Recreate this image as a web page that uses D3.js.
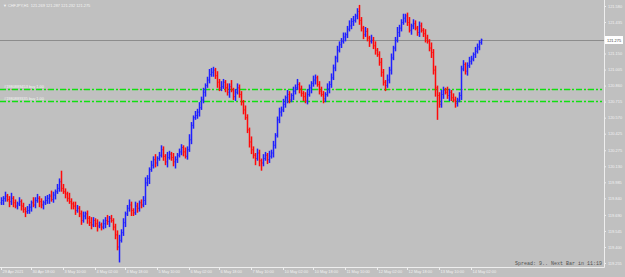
<!DOCTYPE html>
<html><head><meta charset="utf-8">
<script src="https://cdn.jsdelivr.net/npm/d3@7"></script>
<style>html,body{margin:0;padding:0;background:#c0c0c0;overflow:hidden}svg{display:block}</style>
</head><body><svg id="c" width="625" height="277"></svg>
<script>
const firstOpen = 119.80;
const closes = [
119.82,119.84,119.86,119.83,119.81,119.84,119.80,119.77,119.79,119.81,
119.77,119.74,119.72,119.73,119.76,119.80,119.78,119.82,119.84,119.81,
119.78,119.80,119.82,119.84,119.86,119.83,119.87,119.90,119.93,119.99,
119.93,119.90,119.88,119.84,119.81,119.79,119.77,119.73,119.75,119.70,
119.64,119.68,119.70,119.66,119.62,119.60,119.64,119.61,119.59,119.60,
119.58,119.61,119.64,119.63,119.66,119.64,119.58,119.51,119.40,119.46,
119.53,119.62,119.70,119.75,119.78,119.73,119.71,119.77,119.75,119.80,
119.78,119.82,119.98,120.02,120.10,120.14,120.19,120.16,120.20,120.23,
120.28,120.22,120.17,120.21,120.24,120.21,120.17,120.19,120.23,120.26,
120.30,120.26,120.22,120.28,120.37,120.50,120.57,120.59,120.62,120.66,
120.73,120.80,120.86,120.91,120.96,120.98,121.00,120.95,120.89,120.84,
120.85,120.89,120.84,120.80,120.85,120.82,120.76,120.80,120.84,120.78,
120.71,120.64,120.57,120.46,120.35,120.28,120.23,120.20,120.25,120.18,
120.16,120.20,120.23,120.19,120.22,120.25,120.32,120.41,120.55,120.62,
120.64,120.69,120.75,120.78,120.73,120.77,120.81,120.84,120.87,120.83,
120.79,120.76,120.72,120.78,120.84,120.88,120.91,120.93,120.87,120.81,
120.78,120.74,120.78,120.83,120.87,120.93,121.02,121.11,121.18,121.23,
121.26,121.30,121.32,121.37,121.40,121.44,121.45,121.49,121.53,121.45,
121.38,121.32,121.35,121.29,121.26,121.27,121.22,121.18,121.14,121.07,
120.98,120.89,120.86,120.91,121.00,121.11,121.20,121.27,121.34,121.38,
121.43,121.47,121.49,121.43,121.36,121.40,121.42,121.38,121.34,121.40,
121.36,121.33,121.29,121.26,121.20,121.16,121.00,120.84,120.77,120.69,
120.78,120.82,120.80,120.77,120.80,120.75,120.73,120.70,120.73,120.77,
121.01,121.05,120.99,121.04,121.08,121.10,121.14,121.17,121.21,121.25,121.275
];
// upper / lower wick lengths in pips (0.01)
const wickUp = [
3,2,4,2,3,5,2,3,2,4, 2,3,2,4,3,2,5,3,4,2, 3,2,4,3,2,5,3,2,4,3,
10,4,3,2,5,3,2,4,3,2, 3,4,2,3,2,5,3,2,4,3, 2,4,3,5,2,3,2,3,4,5,
3,4,2,3,5,3,2,4,3,2, 3,4,5,3,2,4,3,5,2,3, 4,3,2,5,3,2,4,3,2,3,
3,2,4,3,5,3,2,4,3,5, 3,4,2,3,5,4,3,2,4,3, 5,3,2,4,3,6,2,3,4,3,
3,2,4,3,2,5,3,2,4,3, 2,4,3,2,5,3,4,2,3,4, 3,5,2,4,3,2,4,3,5,2,
3,2,4,5,3,2,4,3,2,3, 4,3,2,5,3,4,3,2,4,3, 3,4,2,3,5,3,4,2,3,6,
3,2,4,3,2,5,3,4,2,3, 4,3,2,5,3,4,2,3,5,3, 3,4,2,3,5,2,4,3,2,4,
3,2,4,3,2,5,3,4,2,3, 4,3,2,5,3,2,4,3,2,3, 3,4,2,3,4,3,2,4,3,2,1
];
const wickDn = [
2,4,3,2,5,3,4,2,3,2, 4,3,5,2,3,4,2,3,2,5, 3,4,2,3,5,2,3,4,2,3,
3,2,4,3,2,5,3,4,2,3, 4,2,3,5,3,4,2,3,5,2, 3,2,4,3,5,2,3,4,3,14,
2,3,4,2,3,5,3,2,4,3, 3,2,4,3,5,2,3,4,3,2, 2,4,3,5,2,3,4,6,3,2,
3,4,2,3,2,4,3,2,3,4, 2,3,4,2,3,2,4,3,5,3, 3,2,4,3,5,2,3,4,2,3,
3,4,2,3,5,4,3,6,2,5, 7,3,2,4,3,2,4,3,2,3, 4,2,3,5,3,2,4,3,2,4,
3,4,2,3,2,5,3,4,2,3, 2,4,3,2,4,3,2,3,4,2, 3,2,4,3,2,3,4,2,3,4,
3,4,2,3,5,2,3,4,2,3, 4,3,5,2,3,4,2,3,2,4, 3,2,4,3,2,4,3,2,3,4,
2,3,4,2,3,5,4,8,22,3, 3,4,2,3,5,3,2,4,3,2, 4,2,3,4,2,3,2,3,2,3,2
];
const priceTicks = [121.580,121.435,121.290,121.150,121.005,120.860,120.715,120.570,120.425,120.275,120.130,119.985,119.840,119.690,119.545,119.400,119.255];
const timeLabels = ["29 Apr 2021","30 Apr 18:00","3 May 10:00","4 May 02:00","4 May 18:00","5 May 10:00","6 May 02:00","6 May 18:00","7 May 10:00","10 May 02:00","10 May 18:00","11 May 10:00","12 May 02:00","12 May 18:00","13 May 10:00","14 May 02:00"];
const timeTickBars = [0,15,31,47,62,78,94,109,125,141,156,172,188,203,219,235];
const headerText = "\u25BC CHFJPY,H1  121.269 121.287 121.232 121.275";
const bidPrice = 121.275;
const orderLevels = [120.829, 120.720];
const orderLabels = ["#1980889453 buy 1.00", "#1980889335 buy 1.00"];
const statusText = "Spread: 9.. Next Bar in 11:19";

const bars = closes.map((c, i) => {
  const o = i === 0 ? firstOpen : closes[i - 1];
  return {i, o, c, h: Math.max(o, c) + wickUp[i] / 100, l: Math.min(o, c) - wickDn[i] / 100};
});

const FONT = "Liberation Sans, Arial, sans-serif";
const FS = 3.9;
const svg = d3.select("#c");
const W = 625, H = 277, axisX = 604, axisY = 267;
const y = d3.scaleLinear().domain([priceTicks[priceTicks.length - 1], priceTicks[0]]).range([263, 6]);
const x = d3.scaleLinear().domain([0, closes.length - 1]).range([1, 481]);

svg.append("rect").attr("width", W).attr("height", H).attr("fill", "#c0c0c0");

// bid line
const bidY = Math.round(y(bidPrice)) + 0.5;
svg.append("line").attr("x1", 0).attr("x2", axisX).attr("y1", bidY).attr("y2", bidY)
  .attr("stroke", "#8c8c8c").attr("stroke-width", 1);

// order lines
orderLevels.forEach((p, k) => {
  const yy = Math.round(y(p)) + 0.5;
  if (k === 0) {
    svg.append("line").attr("x1", 2).attr("x2", axisX - 2).attr("y1", yy).attr("y2", yy)
      .attr("stroke", "#f06060").attr("stroke-width", 1).attr("stroke-dasharray", "2,7").attr("opacity", 0.7);
  } else {
    svg.append("line").attr("x1", 0).attr("x2", axisX - 2).attr("y1", yy - 2).attr("y2", yy - 2)
      .attr("stroke", "#b4d6b4").attr("stroke-width", 0.8).attr("stroke-dasharray", "5,2,1,2");
  }
  svg.append("line").attr("x1", 0).attr("x2", axisX - 2).attr("y1", yy).attr("y2", yy)
    .attr("stroke", "#10e010").attr("stroke-width", 1.3).attr("stroke-dasharray", "6,2,2,2");
  svg.append("text").attr("x", 4).attr("y", yy - 1.5).text(orderLabels[k])
    .attr("font-family", FONT).attr("font-size", FS).attr("fill", "#f4f4f4");
});

// bars
const g = svg.append("g");
bars.forEach(b => {
  const col = b.c >= b.o ? "#2020ff" : "#ff0a0a";
  const xx = Math.round(x(b.i)) + 0.5;
  g.append("line").attr("x1", xx).attr("x2", xx).attr("y1", y(b.h)).attr("y2", y(b.l))
    .attr("stroke", col).attr("stroke-width", 1.5);
  g.append("line").attr("x1", xx - 1.5).attr("x2", xx).attr("y1", y(b.o)).attr("y2", y(b.o))
    .attr("stroke", col).attr("stroke-width", 0.8).attr("opacity", 0.4);
  g.append("line").attr("x1", xx).attr("x2", xx + 1.5).attr("y1", y(b.c)).attr("y2", y(b.c))
    .attr("stroke", col).attr("stroke-width", 0.8).attr("opacity", 0.4);
});

// right price axis (labels hidden under the bid box are not shown)
const shownTicks = priceTicks.filter(p => Math.abs(y(p) - y(bidPrice)) > 6);
const ya = svg.append("g").attr("transform", `translate(${axisX},0)`)
  .call(d3.axisRight(y).tickValues(shownTicks).tickSize(2).tickPadding(2).tickFormat(d3.format(".3f")));
ya.select(".domain").remove();
ya.selectAll("line").attr("stroke", "#eeeeee");
ya.selectAll("text").attr("font-family", FONT).attr("font-size", FS).attr("fill", "#f2f2f2");
svg.append("line").attr("x1", axisX + 0.5).attr("x2", axisX + 0.5).attr("y1", 0).attr("y2", axisY + 0.5)
  .attr("stroke", "#eeeeee").attr("stroke-width", 1);

// bottom time axis
const xa = svg.append("g").attr("transform", `translate(0,${axisY})`)
  .call(d3.axisBottom(x).tickValues(timeTickBars).tickSize(3).tickFormat((d, i) => timeLabels[i]));
xa.select(".domain").remove();
xa.selectAll("line").attr("stroke", "#eeeeee");
xa.selectAll("text").attr("text-anchor", "start").attr("dx", 1).attr("dy", -0.3)
  .attr("font-family", FONT).attr("font-size", FS).attr("fill", "#f2f2f2");
svg.append("line").attr("x1", 0).attr("x2", axisX + 0.5).attr("y1", axisY + 0.5).attr("y2", axisY + 0.5)
  .attr("stroke", "#eeeeee").attr("stroke-width", 1);

// current price box
svg.append("rect").attr("x", axisX + 1).attr("y", bidY - 4.5).attr("width", 18).attr("height", 8).attr("fill", "#ffffff");
svg.append("text").attr("x", axisX + 3).attr("y", bidY + 1.4).text(d3.format(".3f")(bidPrice))
  .attr("font-family", FONT).attr("font-size", FS).attr("fill", "#404040");

// header
svg.append("text").attr("x", 3).attr("y", 6.5).text(headerText)
  .attr("font-family", FONT).attr("font-size", FS).attr("fill", "#f4f4f4").attr("xml:space", "preserve");

// status
svg.append("text").attr("x", 602).attr("y", 265).attr("text-anchor", "end").text(statusText)
  .attr("font-family", "Liberation Mono, DejaVu Sans Mono, monospace").attr("font-size", 5).attr("fill", "#505050");
</script></body></html>
